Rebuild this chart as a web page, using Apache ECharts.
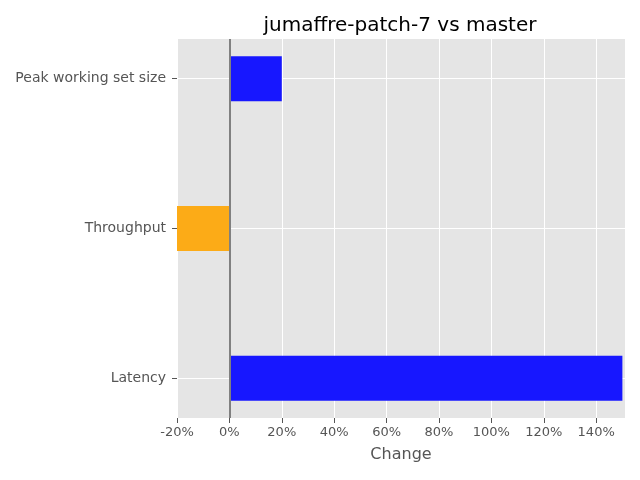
<!DOCTYPE html>
<html>
<head>
    <meta charset="utf-8">
    <script src="https://cdn.jsdelivr.net/npm/echarts@6/dist/echarts.min.js"></script>
    <style>
    html, body { margin: 0; padding: 0; background: #fff; }
    #main { width: 640px; height: 480px; }
    </style>
</head>
<body>
<div id="main"></div>
<script>
// bottom to top
var categories = ['Latency', 'Throughput', 'Peak working set size'];
var changes = [150, -20, 20];

var blue = 'rgb(23,23,255)';
var orange = 'rgb(252,171,23)';
var barHeight = 0.3;

var chart = echarts.init(document.getElementById('main'));

var data = changes.map(function (v, i) {
    return { value: [v, i], itemStyle: { color: v < 0 ? orange : blue } };
});

chart.setOption({
    backgroundColor: '#fff',
    animation: false,
    textStyle: { fontFamily: 'DejaVu Sans' },
    title: {
        text: 'jumaffre-patch-7 vs master',
        left: 395,
        top: 11,
        textAlign: 'center',
        textStyle: { fontSize: 20, fontWeight: 'normal', color: '#000', fontFamily: 'DejaVu Sans' }
    },
    grid: {
        left: 177, right: 15, top: 39, bottom: 62,
        show: true, backgroundColor: '#E5E5E5', borderWidth: 0
    },
    xAxis: {
        type: 'value',
        min: -20,
        max: 151,
        interval: 20,
        name: 'Change',
        nameLocation: 'middle',
        nameGap: 29,
        nameTextStyle: { fontSize: 16, color: '#555' },
        axisLine: { show: false, onZero: false },
        axisTick: { show: true, length: 5, lineStyle: { color: '#555' } },
        axisLabel: {
            color: '#555', fontSize: 13, margin: 8, showMaxLabel: false,
            formatter: function (v) { return v + '%'; }
        },
        splitLine: { show: true, lineStyle: { color: '#fff', width: 1 } }
    },
    yAxis: {
        type: 'value',
        min: -0.265,
        max: 2.265,
        axisLine: { show: false, onZero: false },
        axisTick: { show: true, length: 5, customValues: [0, 1, 2], lineStyle: { color: '#555' } },
        axisLabel: {
            color: '#555', fontSize: 14, margin: 11,
            customValues: [0, 1, 2],
            formatter: function (v) { return categories[Math.round(v)]; }
        },
        splitLine: { show: true, lineStyle: { color: '#fff', width: 1 } }
    },
    series: [{
        type: 'custom',
        clip: true,
        data: data,
        renderItem: function (params, api) {
            var v = api.value(0), y = api.value(1);
            var p0 = api.coord([0, y]);
            var p1 = api.coord([v, y]);
            var h = api.size([0, barHeight])[1];
            return {
                type: 'rect',
                shape: {
                    x: Math.min(p0[0], p1[0]),
                    y: p0[1] - h / 2,
                    width: Math.abs(p1[0] - p0[0]),
                    height: h
                },
                style: { fill: api.visual('color') }
            };
        },
        markLine: {
            silent: true,
            symbol: 'none',
            label: { show: false },
            lineStyle: { color: '#808080', width: 2, type: 'solid' },
            data: [{ xAxis: 0 }]
        }
    }]
});
</script>
</body>
</html>
